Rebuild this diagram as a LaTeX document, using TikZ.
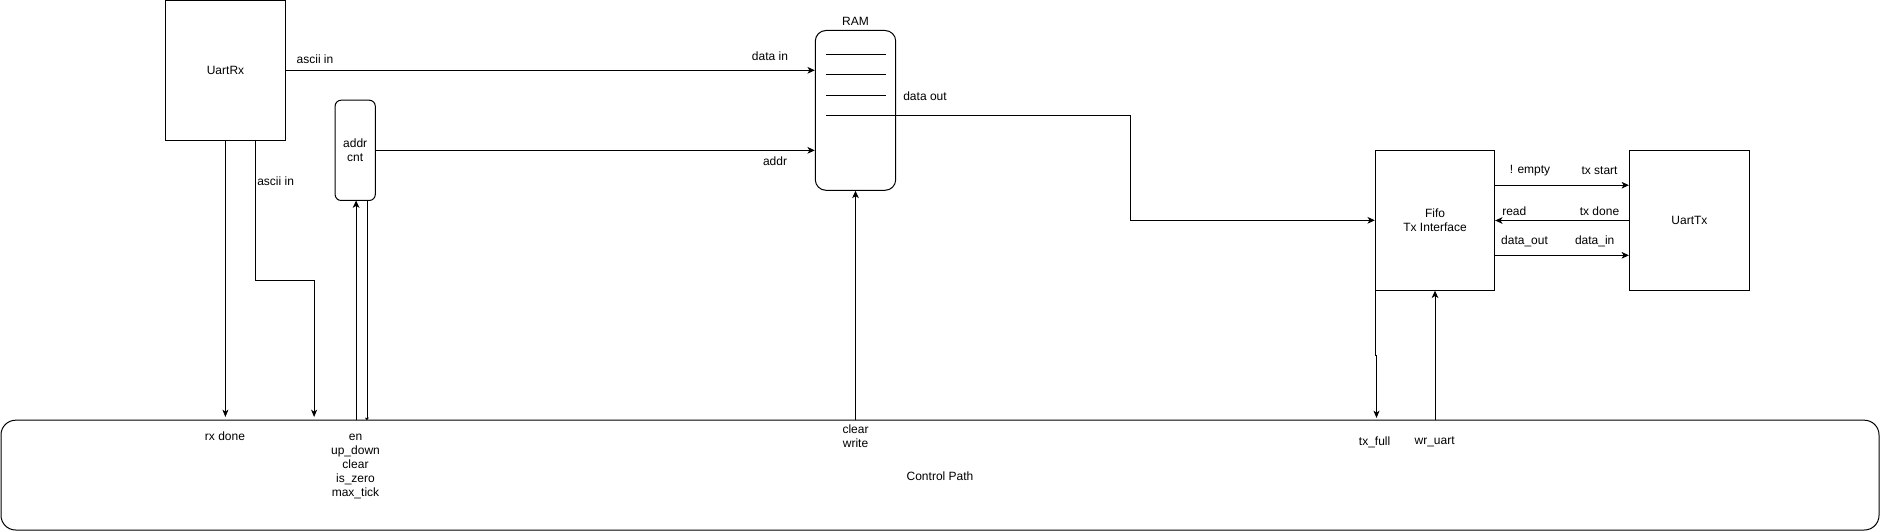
\documentclass[tikz,border=0pt]{standalone}
\usepackage{fontspec}
\setmainfont{Liberation Sans}
\usetikzlibrary{arrows.meta}
\begin{document}
\begin{tikzpicture}[x=0.75pt,y=-0.75pt,
  every node/.style={font=\fontsize{9}{10.6}\selectfont,inner sep=0pt,align=center},
  box/.style={draw,line width=0.75pt,minimum width=#1},
  wire/.style={line width=0.75pt},
  arr/.style={wire,-{Stealth[length=5.5pt,width=5pt,inset=1.5pt]}},
  arrthin/.style={line width=0.6pt,-{Stealth[length=5.5pt,width=4.5pt,inset=1.5pt]}},
  arrtiny/.style={line width=0.6pt,-{Stealth[length=2pt,width=3pt,inset=0.5pt]}}]
\useasboundingbox (0,0) rectangle (1881,531);
% blocks
\node[box=90pt,minimum height=104.6pt] (rx) at (225.5,70.3) {UartRx};
\node[box=60.3pt,minimum height=119.85pt,rounded corners=8pt] (ram) at (855.5,110.4) {};
\node (ramlbl) at (855.5,21) {RAM};
\node[box=30.15pt,minimum height=75.2pt,rounded corners=4.5pt] (addr) at (355.2,150.35) {addr\\cnt};
\node[box=1408.5pt,minimum height=82.35pt,rounded corners=11pt] (ctrl) at (940,475.1) {};
\node (ctrllbl) at (940,476) {Control Path};
\node[box=89.5pt,minimum height=104.85pt] (fifo) at (1435,220.3) {Fifo\\Tx Interface};
\node[box=90pt,minimum height=104.85pt] (tx) at (1689.4,220.3) {UartTx};
% RAM inner lines
\coordinate (r1a) at (825.5,54.9); \coordinate (r1b) at (885.5,54.9);
\coordinate (r2a) at (825.5,74.8); \coordinate (r2b) at (885.5,74.8);
\coordinate (r3a) at (825.5,95.2); \coordinate (r3b) at (885.5,95.2);
\coordinate (dout) at (825.5,115.5);
\draw[wire] (r1a) -- (r1b);
\draw[wire] (r2a) -- (r2b);
\draw[wire] (r3a) -- (r3b);
% connectors top
\draw[arr] (rx.east) -- (ram.west |- rx.east);
\draw[arr] (addr.east) -- (ram.west |- addr.east);
\coordinate (bend) at (1130,220.3);
\draw[arr] (dout) -| (bend) -- (fifo.west);
% UartRx to control
\coordinate (rxs1) at (225.4,140); \coordinate (rxe1) at (225.4,417);
\draw[arrthin] (rxs1) -- (rxe1);
\coordinate (rxs2) at (255.4,140); \coordinate (rxm2) at (314.1,280.4); \coordinate (rxe2) at (314.1,417);
\draw[arrthin] (rxs2) |- (rxm2) -- (rxe2);
% addr cnt to control
\coordinate (aup0) at (356.1,420.2); \coordinate (aup1) at (356.1,200.5);
\draw[arr] (aup0) -- (aup1);
\coordinate (adn0) at (366.9,200.5); \coordinate (adn1) at (366.9,420.2);
\draw[arrtiny] (adn0) -- (adn1);
% RAM from control
\draw[arr] (ram.south |- ctrl.north) -- (ram.south);
% fifo <-> uarttx
\coordinate (e1) at (0,185.2); \coordinate (e2) at (0,220.5); \coordinate (e3) at (0,255.3);
\draw[arr] (fifo.east |- e1) -- (tx.west |- e1);
\draw[arr] (tx.west |- e2) -- (fifo.east |- e2);
\draw[arr] (fifo.east |- e3) -- (tx.west |- e3);
% fifo to control
\coordinate (tf0) at (1375.3,290.2); \coordinate (tf1) at (1375.3,355); \coordinate (tf2) at (1376.5,355); \coordinate (tf3) at (1376.5,418);
\draw[arrthin] (tf0) -- (tf1) -- (tf2) -- (tf3);
\coordinate (wr0) at (1435,420.2);
\draw[arr] (wr0) -- (fifo.south);
% labels
\node (l1) at (315,59) {ascii in};
\node (l2) at (770,56) {data in};
\node (l3) at (925,96) {data out};
\node (l4) at (775,161) {addr};
\node (l5) at (275.6,181) {ascii in};
\node (l6) at (225,436) {rx done};
\node (l7) at (355.5,466.5) {en\\up\_down\\clear\\is\_zero\\max\_tick};
\node (l8) at (855.5,436) {clear\\write};
\node (l9) at (1530,171) {! empty};
\node (l10) at (1599.5,171) {tx start};
\node (l11) at (1514.3,211) {read};
\node (l12) at (1599.5,211) {tx done};
\node (l13) at (1524.5,241) {data\_out};
\node (l14) at (1594.7,241) {data\_in};
\node (l15) at (1374.6,442) {tx\_full};
\node (l16) at (1434.6,442) {wr\_uart};
\end{tikzpicture}
\end{document}
